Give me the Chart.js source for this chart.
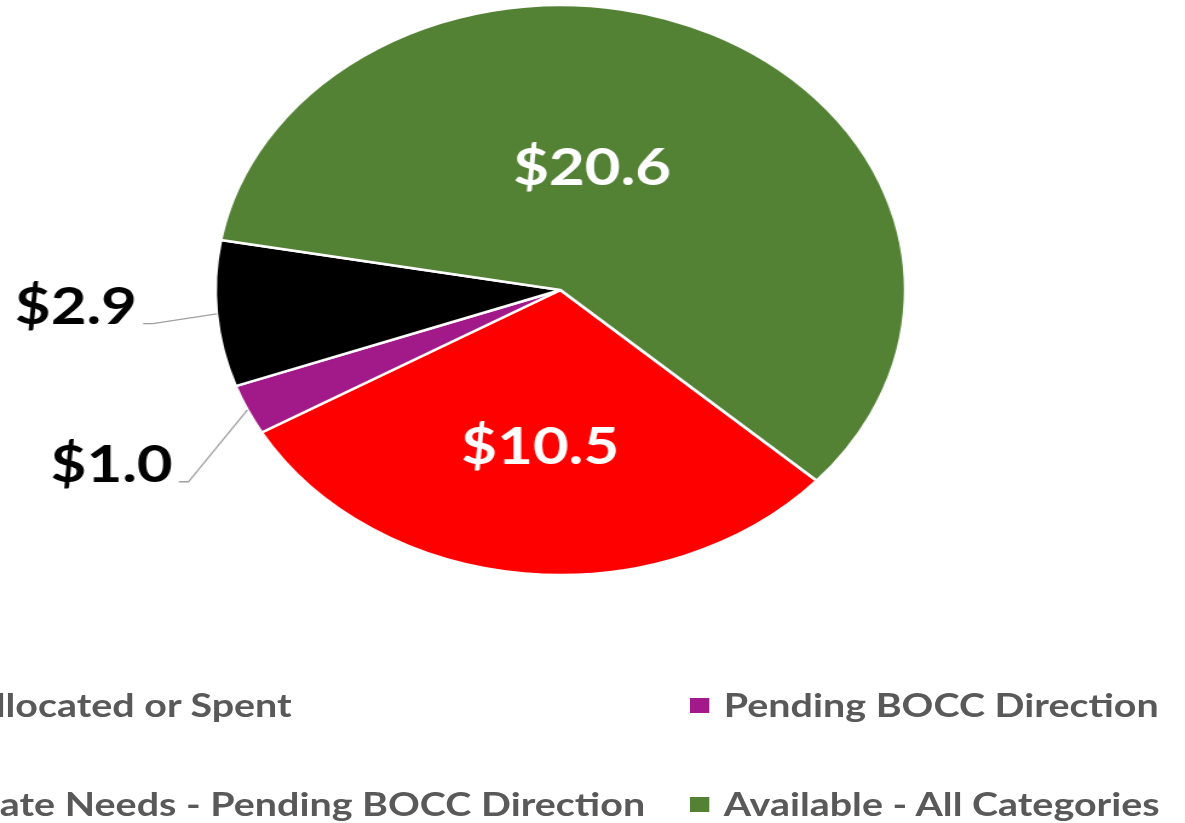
<!DOCTYPE html>
<html>
<head>
<meta charset="utf-8">
<script src="https://cdn.jsdelivr.net/npm/chart.js@4.4.1/dist/chart.umd.min.js"></script>
<style>
  html, body { margin: 0; padding: 0; background: #fff; overflow: hidden; }
  #stage {
    position: absolute; left: 0; top: 0;
    width: 979px; height: 823px;
    transform: scaleX(1.2104); transform-origin: 0 0;
  }
  #myChart { position: absolute; left: 0; top: 0; }
  .item { position: absolute; white-space: nowrap; font: bold 32.6px Lato; color: #595959; line-height: 40px; }
  .box { position: absolute; width: 16px; height: 15px; }
</style>
</head>
<body>
<div id="stage">
  <canvas id="myChart" width="979" height="823"></canvas>
  <div id="legend"></div>
</div>
<script>
// data (millions of dollars)
const categories = ['Allocated or Spent', 'Pending BOCC Direction', 'Immediate Needs - Pending BOCC Direction', 'Available - All Categories'];
const values = [10.5, 1.0, 2.9, 20.6];
const colors = ['#FF0000', '#A21A89', '#000000', '#548235'];

// label tweaks, Excel moved a few of them by hand
const nudges = [[0, -3], [3, 48], [4, 5], [-44, 20]];

const sliceLabels = {
  id: 'sliceLabels',
  afterDatasetsDraw(chart) {
    const ctx = chart.ctx;
    const meta = chart.getDatasetMeta(0);
    const total = values.reduce((a, b) => a + b, 0);
    meta.data.forEach((arc, i) => {
      const p = arc.getProps(['x', 'y', 'startAngle', 'endAngle', 'outerRadius'], true);
      const mid = (p.startAngle + p.endAngle) / 2;
      const c = Math.cos(mid), s = Math.sin(mid);
      const r = p.outerRadius;
      const txt = '$' + values[i].toFixed(1);
      ctx.save();
      ctx.font = 'bold 51px Lato';
      if (values[i] / total < 0.1) {
        // outside label with a leader line
        const ex = p.x + c * r, ey = p.y + s * r;
        const bx = p.x + c * r * 1.2 + nudges[i][0];
        const by = p.y + s * r * 1.2 + nudges[i][1];
        ctx.strokeStyle = '#A0A0A0';
        ctx.lineWidth = 1.3;
        ctx.beginPath();
        ctx.moveTo(ex, ey);
        ctx.lineTo(bx, by);
        ctx.lineTo(bx - 8, by);
        ctx.stroke();
        ctx.fillStyle = '#000';
        ctx.textAlign = 'right';
        ctx.textBaseline = 'alphabetic';
        ctx.fillText(txt, bx - 13, by);
      } else {
        const lx = p.x + c * r * 0.56 + nudges[i][0];
        const ly = p.y + s * r * 0.56 + nudges[i][1];
        ctx.fillStyle = '#fff';
        ctx.textAlign = 'center';
        ctx.textBaseline = 'alphabetic';
        ctx.fillText(txt, lx, ly + 18);
      }
      ctx.restore();
    });
  }
};

const data = {
  labels: categories,
  datasets: [{
    data: values,
    backgroundColor: colors,
    borderColor: '#ffffff',
    borderWidth: 2.5
  }]
};

const config = {
  type: 'pie',
  data,
  options: {
    responsive: false,
    animation: false,
    devicePixelRatio: 1,
    events: [],
    rotation: 132,
    radius: 285,
    layout: { padding: { top: 5, bottom: 248, left: 178, right: 231 } },
    plugins: {
      legend: { display: false },
      tooltip: { enabled: false }
    }
  },
  plugins: [sliceLabels]
};

const myChart = new Chart(document.getElementById('myChart'), config);

// legend, two rows of two; the left column runs off the edge of the picture
const legend = document.getElementById('legend');
const rowsY = [705, 804];
const leftEnds = [241, 533];   // where the cut-off left entries end
categories.forEach((name, i) => {
  const col = i % 2, row = Math.floor(i / 2);
  const y = rowsY[row];
  const box = document.createElement('div');
  box.className = 'box';
  box.style.background = colors[i];
  box.style.top = (y - 7.5) + 'px';
  const txt = document.createElement('div');
  txt.className = 'item';
  txt.textContent = name;
  txt.style.top = (y - 20) + 'px';
  legend.appendChild(box);
  legend.appendChild(txt);
  if (col === 1) {
    box.style.left = '570px';
    txt.style.left = '598px';
  } else {
    const w = txt.getBoundingClientRect().width / 1.2104;
    txt.style.left = (leftEnds[row] - w) + 'px';
    box.style.left = (leftEnds[row] - w - 28) + 'px';
  }
});
</script>
</body>
</html>
